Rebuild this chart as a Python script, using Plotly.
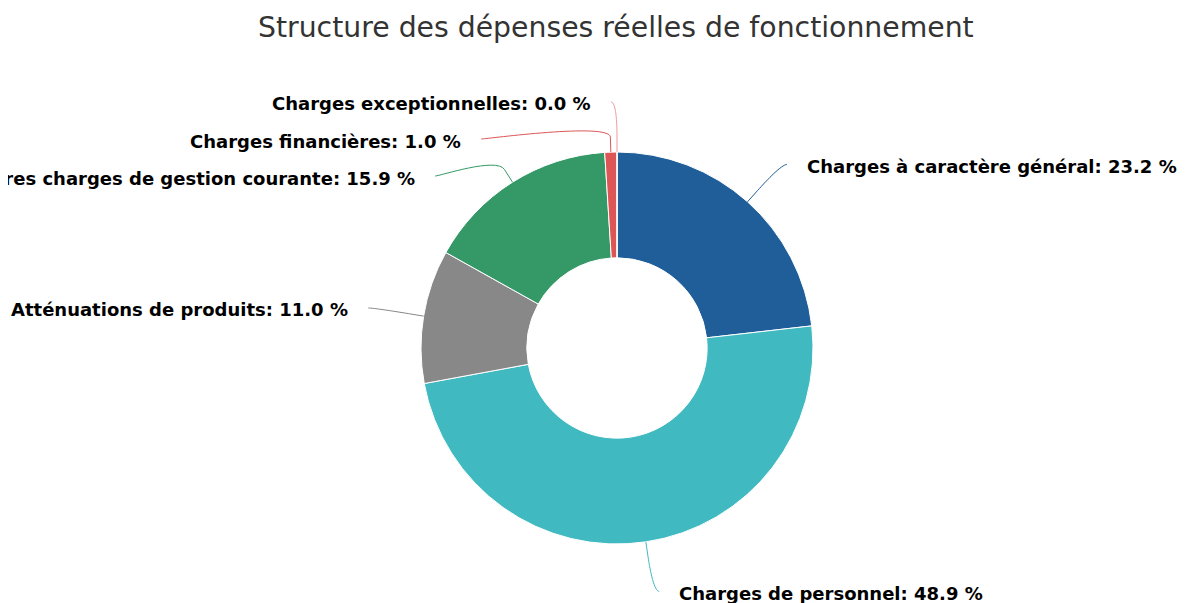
import math
import plotly.graph_objects as go

# ---------------- data ----------------
categories = [
    "Charges à caractère général",
    "Charges de personnel",
    "Atténuations de produits",
    "Autres charges de gestion courante",
    "Charges financières",
    "Charges exceptionnelles",
]
values = [23.2, 48.9, 11.0, 15.9, 1.0, 0.0]
colors = ["#1f5e99", "#41b9c1", "#888888", "#349966", "#dc5656", "#ef9aa2"]
title_text = "Structure des dépenses réelles de fonctionnement"

# ---------------- layout constants (pixels in the page) ----------------
W, H = 1186, 603
OFF = 8  # default page body margin
CX, CY, R = 617, 348, 196
HOLE = 0.46
LABEL_DIST = 50
PAD = 6
BREAK = 15
SPACING = 37
TEXT_GAP = 18
TEXT_DY = 2
FONT = "DejaVu Sans"


def px(x):
    return (x - OFF) / W


def py(y):
    return 1 - (y - OFF) / H


fig = go.Figure()
fig.add_trace(go.Pie(
    labels=categories,
    values=values,
    marker=dict(colors=colors, line=dict(color="#ffffff", width=1)),
    hole=HOLE,
    sort=False,
    direction="clockwise",
    rotation=0,
    textinfo="none",
    hoverinfo="label+percent",
    showlegend=False,
    domain=dict(x=[px(CX - R), px(CX + R)], y=[py(CY + R), py(CY - R)]),
))

# ---------------- outside labels with connectors ----------------
total = sum(values)
cum = 0.0
items = []
for i, v in enumerate(values):
    theta = (cum + v / 2) / total * 2 * math.pi
    cum += v
    left = theta > math.pi
    ny = CY - (R + LABEL_DIST) * math.cos(theta)
    items.append(dict(i=i, theta=theta, left=left, y=ny))

for side in (True, False):
    grp = sorted([it for it in items if it["left"] == side], key=lambda d: d["y"])
    prev = None
    for it in grp:
        if prev is not None and it["y"] < prev + SPACING:
            it["y"] = prev + SPACING
        prev = it["y"]

shapes = []
annotations = []
for it in items:
    th = it["theta"]
    s = -1 if it["left"] else 1
    ly = it["y"]
    dy = ly - CY
    lx = CX + s * (math.sqrt(max((R + LABEL_DIST) ** 2 - dy ** 2, 0)) + PAD)
    bx, by = CX + (R + BREAK) * math.sin(th), CY - (R + BREAK) * math.cos(th)
    tx, ty = CX + R * math.sin(th), CY - R * math.cos(th)
    c1x, c1y = lx - s * 5, ly
    c2x, c2y = 2 * bx - tx, 2 * by - ty
    path = (f"M {px(lx)},{py(ly)} C {px(c1x)},{py(c1y)} {px(c2x)},{py(c2y)} "
            f"{px(bx)},{py(by)} L {px(tx)},{py(ty)}")
    shapes.append(dict(type="path", xref="paper", yref="paper", path=path,
                       line=dict(color=colors[it["i"]], width=1)))
    annotations.append(dict(
        xref="paper", yref="paper",
        x=px(lx + s * TEXT_GAP), y=py(ly + TEXT_DY),
        xanchor="right" if it["left"] else "left", yanchor="middle",
        text=f"<b>{categories[it['i']]}: {values[it['i']]:.1f} %</b>",
        showarrow=False,
        font=dict(family=FONT, size=18, color="#000000"),
    ))

annotations.append(dict(
    xref="paper", yref="paper", x=px(616), y=py(28),
    xanchor="center", yanchor="middle", showarrow=False,
    text=title_text, font=dict(family=FONT, size=28.3, color="#333333"),
))

fig.update_layout(
    width=W, height=H,
    margin=dict(l=0, r=0, t=0, b=0),
    paper_bgcolor="#ffffff", plot_bgcolor="#ffffff",
    shapes=shapes, annotations=annotations,
    showlegend=False,
)

fig.write_html("out.html")
